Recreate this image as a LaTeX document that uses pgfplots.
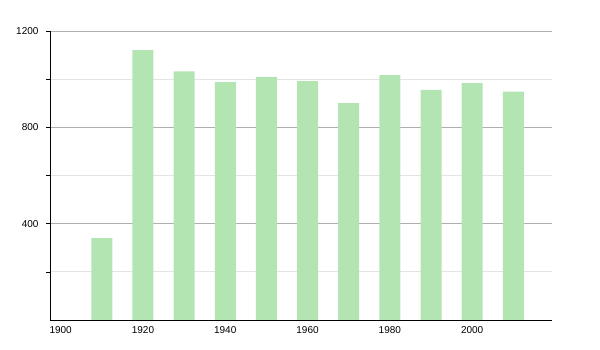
\documentclass[border=0pt]{standalone}
\usepackage{pgfplots}
\pgfplotsset{compat=1.18}
\usepackage{fontspec}
\setmainfont{Liberation Sans}
\definecolor{barg}{RGB}{179,229,179}
\begin{document}
\begin{tikzpicture}
\path[use as bounding box] (0,0) rectangle (600pt,350pt);
\begin{axis}[
  at={(50pt,30pt)}, anchor=south west,
  scale only axis, width=502pt, height=289pt,
  xmin=1900, xmax=2022, ymin=0, ymax=1200,
  axis x line=bottom, axis y line=left,
  axis line style={-, black, line width=0.9pt},
  xtick={1900,1920,1940,1960,1980,2000},
  xticklabels={1900,1920,1940,1960,1980,2000},
  major x tick style={draw=none},
  xticklabel style={anchor=north west, xshift=-4pt, yshift=1pt},
  ytick={400,800,1200},
  minor ytick={200,600,1000},
  tick align=outside,
  major tick length=4pt, minor tick length=4pt,
  y tick style={black, line width=0.6pt},
  ymajorgrids, yminorgrids,
  major grid style={draw={rgb,255:red,175;green,175;blue,175}, line width=0.7pt},
  minor grid style={draw={rgb,255:red,228;green,228;blue,228}, line width=0.7pt},
  yticklabel style={xshift=-4pt},
  tick label style={font=\fontsize{10}{11}\selectfont},
  /pgf/number format/assume math mode=true,
  /pgf/number format/set thousands separator={},
  scaled y ticks=false,
]
\addplot[ybar, bar width=21pt, fill=barg, draw=none] coordinates {
(1912.6,340) (1922.6,1121) (1932.6,1032) (1942.6,988) (1952.6,1009)
(1962.6,992) (1972.6,901) (1982.6,1017) (1992.6,955) (2002.6,984) (2012.6,948)
};
\end{axis}
\end{tikzpicture}
\end{document}
